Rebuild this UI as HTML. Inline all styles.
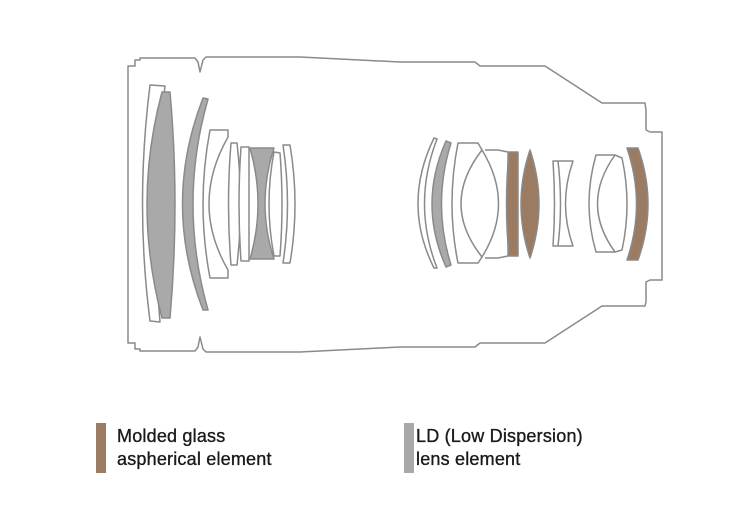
<!DOCTYPE html>
<html><head><meta charset="utf-8"><style>
body{margin:0;background:#fff;width:740px;height:529px;overflow:hidden;position:relative;font-family:"Liberation Sans",sans-serif}
.t{position:absolute;font-size:18px;line-height:23px;color:#1a1a1a;letter-spacing:0.2px;-webkit-text-stroke:0.35px #1a1a1a}
</style></head><body>
<svg width="740" height="529" style="position:absolute;left:0;top:0" fill="none" stroke="#8a8a8a" stroke-width="1.5" stroke-linejoin="round">
<!-- housing -->
<path d="M128 66 L135 66 L135 60 L140 60 L140 58 L195 58 L198 62 L200 72 L203 60 L206 57 L300 57 L400 62 L475 62 L480 66 L545 66 L602 103 L645 103 L646 110 L646 130 L650 132 L662 132 L662 280 L650 280 L646 282 L646 302 L645 306 L602 306 L545 343 L480 343 L475 347 L400 347 L300 352 L206 352 L203 349 L200 337 L198 347 L195 351 L140 351 L140 349 L135 349 L135 343 L128 343 Z"/>
<!-- left group -->
<path d="M150 85 L165 86 Q150 204 160 322 L150 321 Q135 204 150 85 Z" fill="#fff"/>
<path d="M162 92 L170 92 Q180 204 170 318 L162 318 Q132 204 162 92 Z" fill="#a9a9a9"/>
<path d="M203 98 L208 99 Q178 204 208 310 L203 310 Q162 204 203 98 Z" fill="#a9a9a9"/>
<path d="M210 130 L228 130 L228 137 Q190 204 228 270 L228 278 L210 278 Q196 204 210 130 Z" fill="#fff"/>
<path d="M231 143 L237 143 Q244 204 237 265 L231 265 Q226 204 231 143 Z" fill="#fff"/>
<path d="M241 147 L249 147 L249 261 L241 261 Q237 204 241 147 Z" fill="#fff"/>
<path d="M250 148 L274 148 Q256 204 274 259 L250 259 Q266 204 250 148 Z" fill="#a9a9a9"/>
<path d="M274 152 L280 153 Q284 204 280 256 L274 256 Q264 204 274 152 Z" fill="#fff"/>
<path d="M283 145 L290 145 Q300 204 290 263 L283 263 Q292 204 283 145 Z" fill="#fff"/>
<!-- right group -->
<path d="M434 138 L437 139 Q412 204 437 268 L434 268 Q402 204 434 138 Z" fill="#fff"/>
<path d="M446 141 L451 143 Q432 204 451 265 L446 267 Q418 204 446 141 Z" fill="#a9a9a9"/>
<path d="M458 143 L478 143 L482 150 Q445 204 482 257 L478 263 L458 263 Q446 204 458 143 Z" fill="#fff"/>
<path d="M482 150 Q440 204 482 257 Q515 204 482 150 Z" fill="#fff"/>
<path d="M485 150 L498 150 L508 152 L508 256 L498 258 L485 258" fill="none"/>
<path d="M509 152 L518 152 L518 256 L509 256 Q504 204 509 152 Z" fill="#9b7b62"/>
<path d="M530 150 Q548 204 530 258 Q512 204 530 150 Z" fill="#9b7b62"/>
<path d="M553 161 L573 161 Q558 204 573 246 L553 246 Q556 204 553 161 Z" fill="#fff"/>
<path d="M558 161 Q563 204 558 246" />
<path d="M596 155 L615 155 L622 158 Q632 204 622 250 L615 252 L596 252 Q582 204 596 155 Z" fill="#fff"/>
<path d="M615 155 Q580 204 615 252" />
<path d="M627 148 L638 148 Q658 204 638 260 L627 260 Q646 204 627 148 Z" fill="#9b7b62"/>
</svg>
<div style="position:absolute;left:96px;top:423px;width:10px;height:50px;background:#9b7b62"></div>
<div style="position:absolute;left:404px;top:423px;width:10px;height:50px;background:#a9a9a9"></div>
<div class="t" style="left:117px;top:425px">Molded glass<br>aspherical element</div>
<div class="t" style="left:416px;top:425px">LD (Low Dispersion)<br>lens element</div>
</body></html>
